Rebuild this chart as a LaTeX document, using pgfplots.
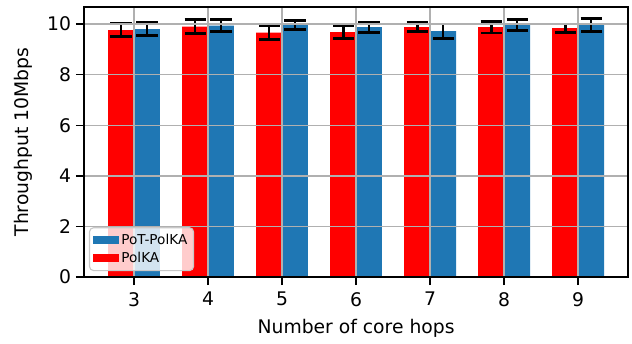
\documentclass[border=0pt]{standalone}
\usepackage{fontspec}
\setmainfont{DejaVu Sans}
\usepackage{pgfplots}
\pgfplotsset{compat=1.18}
\definecolor{mplblue}{HTML}{1F77B4}
\definecolor{gridgray}{HTML}{B0B0B0}
\begin{document}
\begin{tikzpicture}
\begin{axis}[
  scale only axis,
  width=391.7pt, height=194.4pt,
  at={(0,0)}, anchor=south west,
  xmin=2.325, xmax=9.675,
  ymin=0, ymax=10.67,
  xtick={3,4,5,6,7,8,9},
  ytick={0,2,4,6,8,10},
  tick align=outside,
  tick pos=left,
  major tick length=5.8pt,
  tick style={black, line width=1.1pt},
  axis line style={black, line width=1.1pt},
  grid=major,
  grid style={gridgray, line width=1pt},
  axis on top,
  /pgf/number format/assume math mode=true,
  ticklabel style={font=\fontsize{13.5}{16}\selectfont},
  xticklabel style={yshift=-1.5pt},
  label style={font=\fontsize{13.5}{16}\selectfont},
  xlabel={Number of core hops},
  ylabel={Throughput 10Mbps},
  xlabel style={at={(axis description cs:0.5,-0.189)}, anchor=center},
  ylabel style={at={(axis description cs:-0.112,0.5)}, anchor=center},
  ybar, bar width=0.35,
  legend style={
    at={(axis description cs:0.009,0.022)}, anchor=south west,
    font=\fontsize{9.8}{11}\selectfont,
    draw=gridgray!70, line width=0.8pt, fill=white, fill opacity=0.8, text opacity=1,
    rounded corners=3pt, inner sep=2.5pt, row sep=0pt,
    cells={anchor=west},
  },
  legend image code/.code={\fill[#1, sharp corners, fill opacity=1] (0pt,-2.9pt) rectangle (18.5pt,2.9pt);},
]
\addplot+[draw=none, fill=mplblue, bar shift=0.175,
  error bars/.cd, y dir=both, y explicit,
  error bar style={draw=black, solid, line width=2pt},
  error mark options={draw=black, solid, rotate=90, mark size=7.6pt, line width=2pt}]
  coordinates {
  (3,9.80) +- (0,0.26)
  (4,9.94) +- (0,0.25)
  (5,9.97) +- (0,0.18)
  (6,9.88) +- (0,0.20)
  (7,9.72) +- (0,0.28)
  (8,9.96) +- (0,0.23)
  (9,9.96) +- (0,0.26)
  };
\addlegendentry{PoT-PolKA}
\addplot+[draw=none, fill=red, bar shift=-0.175,
  error bars/.cd, y dir=both, y explicit,
  error bar style={draw=black, solid, line width=2pt},
  error mark options={draw=black, solid, rotate=90, mark size=7.6pt, line width=2pt}]
  coordinates {
  (3,9.76) +- (0,0.26)
  (4,9.90) +- (0,0.27)
  (5,9.66) +- (0,0.28)
  (6,9.68) +- (0,0.25)
  (7,9.88) +- (0,0.18)
  (8,9.88) +- (0,0.23)
  (9,9.84) +- (0,0.16)
  };
\addlegendentry{PolKA}
\end{axis}
\pgfresetboundingbox
\path[use as bounding box] (-60.5pt,-47.5pt) rectangle (394.5pt,199.5pt);
\end{tikzpicture}
\end{document}
